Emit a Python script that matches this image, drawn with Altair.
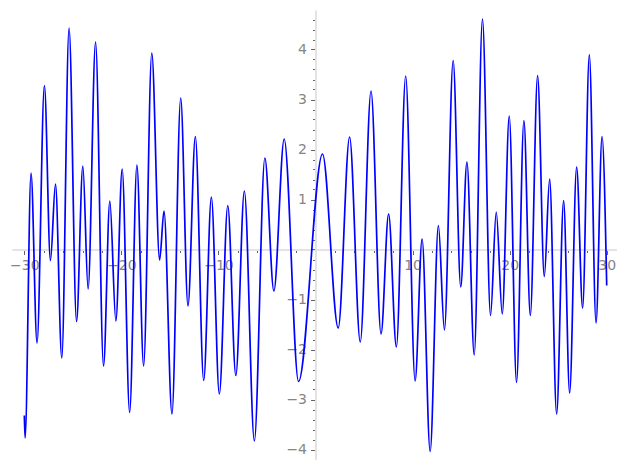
import altair as alt
import pandas as pd

# extrema of the curve (x, y)
X = [-30.0, -29.92, -29.31, -28.69, -27.93, -27.31, -26.79, -26.14, -25.39, -24.62,
     -23.97, -23.43, -22.66, -21.84, -21.19, -20.57, -19.92, -19.15, -18.40, -17.71,
     -16.87, -16.06, -15.61, -14.79, -13.89, -13.14, -12.38, -11.52, -10.73, -9.91,
     -9.04, -8.21, -7.33, -6.30, -5.22, -4.29, -3.23, -1.75, 0.72, 2.34,
     3.51, 4.61, 5.72, 6.75, 7.53, 8.33, 9.29, 10.26, 10.98, 11.81,
     12.66, 13.28, 14.18, 14.96, 15.60, 16.35, 17.20, 18.03, 18.62, 19.24,
     19.96, 20.71, 21.47, 22.13, 22.88, 23.57, 24.12, 24.84, 25.56, 26.18,
     26.90, 27.52, 28.21, 28.90, 29.52, 30.0]
Y = [-3.32, -3.77, 1.53, -1.87, 3.28, -0.22, 1.31, -2.17, 4.43, -1.44,
     1.67, -0.79, 4.15, -2.33, 0.97, -1.43, 1.61, -3.26, 1.69, -2.33,
     3.93, -0.21, 0.77, -3.29, 3.03, -1.13, 2.26, -2.62, 1.05, -2.89,
     0.88, -2.52, 1.17, -3.83, 1.83, -0.83, 2.21, -2.64, 1.91, -1.57,
     2.25, -1.85, 3.17, -1.69, 0.71, -1.95, 3.47, -2.63, 0.21, -4.04,
     0.48, -1.61, 3.78, -0.75, 1.75, -2.11, 4.61, -1.32, 0.75, -1.29,
     2.67, -2.66, 2.58, -1.32, 3.48, -0.54, 1.41, -3.29, 0.98, -2.87,
     1.65, -1.17, 3.90, -1.47, 2.26, -0.72]

X_TICKS = [v for v in range(-30, 31, 2)]
Y_TICKS = [round(-4.2 + 0.2 * i, 1) for i in range(45)]

X_DOMAIN = [-31.27, 31.06]
Y_DOMAIN = [-4.21, 4.79]

W, H = 605, 450

df = pd.DataFrame({"x": X, "y": Y})

x_off = -(H - (Y_DOMAIN[1] - 0) / (Y_DOMAIN[1] - Y_DOMAIN[0]) * H)
y_off = -((0 - X_DOMAIN[0]) / (X_DOMAIN[1] - X_DOMAIN[0]) * W)

common = dict(
    domainColor="#e3e3e3",
    domainWidth=2,
    tickColor="#666666",
    tickWidth=1,
    labelColor="#858585",
    labelFont="DejaVu Sans",
    labelFontSize=14,
    grid=False,
    title=None,
)

xaxis = alt.Axis(
    values=X_TICKS,
    offset=x_off,
    labelExpr="datum.value % 10 === 0 && datum.value !== 0 ? replace(format(datum.value, 'd'), '-', '\u2212') : ''",
    tickSize={"condition": {"test": "datum.value % 10 === 0", "value": 5}, "value": 3},
    labelPadding=4,
    labelFlush=False,
    labelOverlap=False,
    **common,
)
yaxis = alt.Axis(
    values=Y_TICKS,
    offset=y_off,
    labelExpr="abs(datum.value - round(datum.value)) < 1e-6 && datum.value !== 0 ? replace(format(datum.value, 'd'), '-', '\u2212') : ''",
    tickSize={"condition": {"test": "abs(datum.value - round(datum.value)) < 1e-6", "value": 5}, "value": 3},
    labelPadding=4,
    labelFlush=False,
    labelOverlap=False,
    **common,
)

chart = (
    alt.Chart(df)
    .mark_line(color="#0000ff", strokeWidth=1.7, interpolate="monotone")
    .encode(
        x=alt.X("x:Q", scale=alt.Scale(domain=X_DOMAIN, nice=False, zero=False), axis=xaxis),
        y=alt.Y("y:Q", scale=alt.Scale(domain=Y_DOMAIN, nice=False, zero=False), axis=yaxis),
        order="x:Q",
    )
    .properties(
        width=W,
        height=H,
        autosize=alt.AutoSizeParams(type="none"),
        padding={"left": 4, "top": 2, "right": 0, "bottom": 0},
    )
    .configure_view(stroke=None)
)

chart.save("out.html", embed_options={"renderer": "svg", "actions": False})
